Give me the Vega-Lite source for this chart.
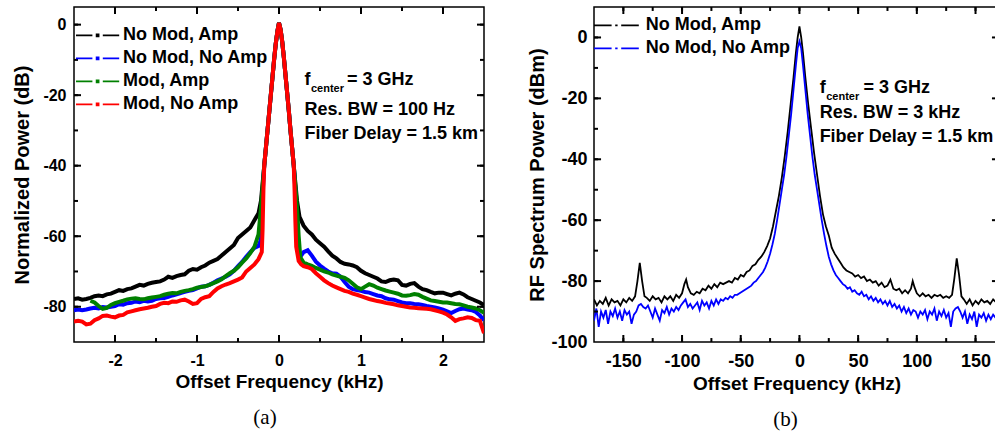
{
  "$schema": "https://vega.github.io/schema/vega-lite/v6.json",
  "padding": {"left": 12, "top": 5, "right": 0, "bottom": 0},
  "spacing": 41,
  "config": {
    "font": "Liberation Sans",
    "view": {"stroke": "#000", "strokeWidth": 1.5},
    "axis": {"labelFont": "Liberation Sans", "labelFontWeight": "bold", "labelColor": "#000", "titleFont": "Liberation Sans", "titleFontWeight": "bold", "titleColor": "#000", "domain": false, "grid": false, "ticks": false, "tickSize": 0},
    "rule": {"color": "#000", "strokeWidth": 2},
    "text": {"font": "Liberation Sans", "fontWeight": "bold", "fontSize": 18, "align": "left", "baseline": "alphabetic", "color": "#000"},
    "title": {"font": "Liberation Serif", "fontWeight": "normal", "fontSize": 21, "color": "#000"}
  },
  "resolve": {"scale": {"color": "independent"}, "legend": {"color": "independent"}},
  "datasets": {
    "a": [
      {"series": "No Mod, Amp",
       "x": [-2.5,-2.45,-2.4,-2.35,-2.3,-2.25,-2.2,-2.15,-2.1,-2.05,-2,-1.95,-1.9,-1.85,-1.8,-1.75,-1.7,-1.65,-1.6,-1.55,-1.5,-1.45,-1.4,-1.35,-1.3,-1.25,-1.2,-1.15,-1.1,-1.05,-1,-0.95,-0.9,-0.85,-0.8,-0.75,-0.7,-0.65,-0.6,-0.55,-0.5,-0.45,-0.4,-0.35,-0.3,-0.25,-0.22,-0.2,-0.18,-0.16,-0.14,-0.12,-0.1,-0.08,-0.06,-0.04,-0.02,0,0.02,0.04,0.06,0.08,0.1,0.12,0.14,0.16,0.18,0.2,0.22,0.25,0.3,0.35,0.4,0.45,0.5,0.55,0.6,0.65,0.7,0.75,0.8,0.85,0.9,0.95,1,1.05,1.1,1.15,1.2,1.25,1.3,1.35,1.4,1.45,1.5,1.55,1.6,1.65,1.7,1.75,1.8,1.85,1.9,1.95,2,2.05,2.1,2.15,2.2,2.25,2.3,2.35,2.4,2.45,2.5],
       "y": [-77.8,-77.6,-78,-77.8,-77.5,-77,-76.8,-77,-76.5,-76.3,-75.8,-75.3,-75.5,-75,-74.8,-74.3,-73.8,-74,-73.5,-73.2,-73,-72.8,-72.3,-71.5,-71.8,-71.3,-71,-70.8,-69.8,-69.3,-69.5,-68.8,-68.3,-67.5,-67,-66.5,-65.5,-64.5,-63.5,-62.5,-60.5,-59.5,-58.5,-57.5,-55.5,-53.5,-50,-45,-40,-35,-30,-25,-20,-15,-10,-5.5,-2,0.5,-1.5,-5,-9.5,-14.5,-19.5,-24.5,-30,-35,-40,-45,-50,-54.5,-57,-58.5,-59.5,-61,-62,-63,-64.3,-65.5,-66.3,-67.3,-67.8,-68,-68.3,-68.8,-69.8,-70.5,-71,-71.5,-72,-72.8,-73,-72.5,-72.3,-72.5,-73.8,-74,-73.5,-73.3,-74.3,-75,-75.3,-75.8,-76.2,-76,-76,-76.4,-76.8,-76.3,-76,-76.5,-77.3,-77.8,-78.3,-78.8,-79.5]},
      {"series": "No Mod, No Amp",
       "x": [-2.5,-2.45,-2.4,-2.35,-2.3,-2.25,-2.2,-2.15,-2.1,-2.05,-2,-1.95,-1.9,-1.85,-1.8,-1.75,-1.7,-1.65,-1.6,-1.55,-1.5,-1.45,-1.4,-1.35,-1.3,-1.25,-1.2,-1.15,-1.1,-1.05,-1,-0.95,-0.9,-0.85,-0.8,-0.75,-0.7,-0.65,-0.6,-0.55,-0.5,-0.45,-0.4,-0.35,-0.3,-0.25,-0.22,-0.21,-0.2,-0.18,-0.16,-0.14,-0.12,-0.1,-0.08,-0.06,-0.04,-0.02,0,0.02,0.04,0.06,0.08,0.1,0.12,0.14,0.16,0.18,0.2,0.21,0.22,0.24,0.27,0.3,0.35,0.4,0.45,0.5,0.55,0.6,0.65,0.7,0.75,0.8,0.85,0.9,0.95,1,1.05,1.1,1.15,1.2,1.25,1.3,1.35,1.4,1.45,1.5,1.55,1.6,1.65,1.7,1.75,1.8,1.85,1.9,1.95,2,2.05,2.1,2.15,2.2,2.25,2.3,2.35,2.4,2.45,2.5],
       "y": [-81,-80.8,-81,-80.8,-80.5,-80.3,-80.5,-80.1,-80.2,-80,-79.8,-79.3,-79.4,-79,-78.9,-78.5,-78.7,-78.3,-78.5,-78.3,-77.8,-77.6,-77.5,-77.2,-76.8,-76.5,-76.1,-75.8,-75.5,-75.3,-74.8,-74.3,-74.2,-73.8,-73.2,-72.5,-72,-71.5,-70.8,-69.8,-68.5,-67.3,-65.8,-64.5,-63.3,-62.8,-61,-56,-48,-40,-35,-30,-25,-20,-15,-10,-5.5,-2,0.5,-1.5,-5,-9.5,-14.5,-19.5,-24.5,-30,-35,-40,-47,-53,-60,-64.5,-65.5,-64.5,-64,-65.5,-67.2,-68.3,-69.2,-70,-70.5,-70.6,-71.5,-73,-74.3,-75,-75.3,-75.5,-75.8,-76,-76.4,-76.8,-77,-77.6,-77.9,-78,-78.4,-78.8,-79,-79,-79.2,-79.3,-79.5,-79.8,-80,-80.2,-80.5,-80.8,-81.3,-81.8,-81.2,-80.7,-80.5,-80.8,-81,-81.5,-82.5,-83.8]},
      {"series": "Mod, Amp",
       "x": [-2.3,-2.25,-2.2,-2.15,-2.1,-2.05,-2,-1.95,-1.9,-1.85,-1.8,-1.75,-1.7,-1.65,-1.6,-1.55,-1.5,-1.45,-1.4,-1.35,-1.3,-1.25,-1.2,-1.15,-1.1,-1.05,-1,-0.95,-0.9,-0.85,-0.8,-0.75,-0.7,-0.65,-0.6,-0.55,-0.5,-0.45,-0.4,-0.35,-0.3,-0.25,-0.22,-0.2,-0.18,-0.16,-0.14,-0.12,-0.1,-0.08,-0.06,-0.04,-0.02,0,0.02,0.04,0.06,0.08,0.1,0.12,0.14,0.16,0.18,0.2,0.22,0.24,0.26,0.3,0.35,0.4,0.45,0.5,0.55,0.6,0.65,0.7,0.75,0.8,0.85,0.9,0.95,1,1.05,1.1,1.15,1.2,1.25,1.3,1.35,1.4,1.45,1.5,1.55,1.6,1.65,1.7,1.75,1.8,1.85,1.9,1.95,2,2.05,2.1,2.15,2.2,2.25,2.3,2.35,2.4,2.45,2.5],
       "y": [-78.3,-78.8,-79.8,-80.6,-80.3,-79.5,-79,-78.6,-78.3,-77.9,-77.7,-77.6,-77.8,-77.9,-77.6,-77.4,-77.2,-77,-76.6,-76.3,-76.1,-76.2,-75.8,-75.5,-75.3,-75,-74.6,-74.4,-74.2,-73.8,-73.3,-72.8,-72.2,-71.3,-70.5,-69.8,-68.8,-67.5,-66.3,-64.8,-63,-59.5,-52,-46,-40,-35,-30,-25,-20,-15,-10,-5.5,-2,0.5,-1.5,-5,-9.5,-14.5,-19.5,-24.5,-30,-35,-40,-46,-52,-60,-66,-67.5,-68,-68.4,-69,-69.5,-70,-70.3,-70.8,-71.2,-71.5,-71.8,-72.5,-73.5,-74.5,-75,-74.3,-73.6,-74,-74.6,-75,-75.4,-75.7,-76,-76.3,-76.8,-76.9,-76.7,-76.4,-76.6,-77.2,-77.7,-78.2,-78.4,-78.6,-78.8,-78.8,-79,-79.2,-79.3,-79.6,-80,-80.2,-80.5,-81,-81.7]},
      {"series": "Mod, No Amp",
       "x": [-2.5,-2.45,-2.4,-2.35,-2.3,-2.25,-2.2,-2.15,-2.1,-2.05,-2,-1.95,-1.9,-1.85,-1.8,-1.75,-1.7,-1.65,-1.6,-1.55,-1.5,-1.45,-1.4,-1.35,-1.3,-1.25,-1.2,-1.15,-1.1,-1.05,-1,-0.95,-0.9,-0.85,-0.8,-0.75,-0.7,-0.65,-0.6,-0.55,-0.5,-0.45,-0.4,-0.35,-0.3,-0.25,-0.21,-0.2,-0.19,-0.18,-0.16,-0.14,-0.12,-0.1,-0.08,-0.06,-0.04,-0.02,0,0.02,0.04,0.06,0.08,0.1,0.12,0.14,0.16,0.18,0.19,0.2,0.21,0.24,0.27,0.3,0.35,0.4,0.45,0.5,0.55,0.6,0.65,0.7,0.75,0.8,0.85,0.9,0.95,1,1.05,1.1,1.15,1.2,1.25,1.3,1.35,1.4,1.45,1.5,1.55,1.6,1.65,1.7,1.75,1.8,1.85,1.9,1.95,2,2.05,2.1,2.15,2.2,2.25,2.3,2.35,2.4,2.45,2.5],
       "y": [-84.2,-84,-84.2,-85,-84.8,-83.8,-83.3,-82.6,-82.5,-82.8,-83,-82.5,-82.3,-81.6,-81.3,-81,-80.7,-80.5,-80.3,-80,-79.8,-79.2,-78.9,-79,-78.5,-78.6,-78.2,-78,-78.5,-79.2,-79,-77.8,-77.3,-77,-75.8,-74.8,-74.2,-73.7,-73.3,-72.8,-72.3,-71.7,-70,-69,-68,-66.5,-64.5,-58,-47,-40,-35,-30,-25,-20,-15,-10,-5.5,-2,0.5,-1.5,-5,-9.5,-14.5,-19.5,-24.5,-30,-35,-40,-47,-56,-63,-67,-68,-68.5,-68.8,-69.3,-70.5,-71.5,-72.5,-73.3,-74,-74.5,-75,-75.5,-75.8,-76.3,-76.6,-77,-77.4,-77.8,-78.1,-78.4,-78.6,-78.9,-79.1,-79.3,-79.6,-79.8,-80,-80.2,-80.3,-80.4,-80.5,-80.6,-80.7,-81,-81.3,-81.7,-82.2,-83,-84,-83.5,-83.3,-83,-83.2,-83.8,-84,-87.5]}
    ],
    "b": [
      {"series": "No Mod, Amp",
       "x": [-175,-172.5,-170,-167.5,-165,-162.5,-160,-157.5,-155,-152.5,-150,-147.5,-145,-142.5,-140,-138,-136,-134,-132,-130,-127.5,-125,-122.5,-120,-117.5,-115,-112.5,-110,-107.5,-105,-102.5,-100,-98,-96.5,-95,-92.5,-90,-87.5,-85,-82.5,-80,-77.5,-75,-72.5,-70,-67.5,-65,-62.5,-60,-57.5,-55,-52.5,-50,-47.5,-45,-42.5,-40,-37.5,-35,-32.5,-30,-27.5,-25,-22.5,-20,-17.5,-15,-12.5,-10,-7.5,-5,-3,-1.5,0,1.5,3,5,7.5,10,12.5,15,17.5,20,22.5,25,27.5,30,32.5,35,37.5,40,42.5,45,47.5,50,52.5,55,57.5,60,62.5,65,67.5,70,72.5,75,77.5,80,82.5,85,87.5,90,92.5,95,96.5,98,100,102.5,105,107.5,110,112.5,115,117.5,120,122.5,125,127.5,130,132,134,136,138,140,142.5,145,147.5,150,152.5,155,157.5,160,162.5,165,167.5,170],
       "y": [-86,-88,-86.5,-87.5,-85.5,-88,-86,-87,-86.5,-88,-86,-87,-85.5,-86.5,-85,-80,-74,-80,-85,-85.5,-86.5,-85,-86,-85.5,-87,-85,-86,-85,-86.5,-84.5,-85.5,-84,-81,-79.5,-82,-84,-84.5,-83.5,-84,-82.5,-83,-81.5,-82.5,-81,-82,-80.5,-81,-80.5,-80,-80.5,-79,-79.5,-78,-78.5,-77,-76.5,-75,-74.5,-73,-72,-70.5,-68.5,-66,-62,-57,-52,-46,-39,-31,-22,-13,-5,0,3.6,0,-5,-13,-22,-30,-38,-45,-52,-58,-62,-65,-69,-71,-72.5,-74,-75.5,-76.5,-77,-77.5,-78.5,-78,-79,-78.5,-80,-79.5,-80.5,-80,-81.5,-80.5,-82,-81.5,-79.5,-82.5,-83,-82.5,-84,-83,-84,-82.5,-80,-82,-84,-85,-84,-85,-84.5,-85.5,-84.5,-85,-84.5,-85.5,-85,-85.5,-84.5,-79,-72.5,-78,-85,-86,-87.5,-86,-88,-86.5,-87.5,-86,-87,-86.5,-87.5,-86,-87,-86.5]},
      {"series": "No Mod, No Amp",
       "x": [-175,-173,-171,-169,-167,-165,-163,-161,-159,-157,-155,-153,-151,-149,-147,-145,-143,-141,-139,-137,-135,-133,-131,-129,-127,-125,-123,-121,-119,-117,-115,-113,-111,-109,-107,-105,-103,-101,-99,-97,-95,-93,-91,-89,-87,-85,-83,-81,-79,-77,-75,-73,-71,-69,-67,-65,-63,-61,-59,-57,-55,-53,-51,-49,-47,-45,-43,-41,-39,-37,-35,-33,-31,-29,-27,-25,-23,-21,-19,-17,-15,-13,-11,-9,-7,-5,-3,-1.5,0,1.5,3,5,7,9,11,13,15,17,19,21,23,25,27,29,31,33,35,37,39,41,43,45,47,49,51,53,55,57,59,61,63,65,67,69,71,73,75,77,79,81,83,85,87,89,91,93,95,97,99,101,103,105,107,109,111,113,115,117,119,121,123,125,127,129,131,133,135,137,139,141,143,145,147,149,151,153,155,157,159,161,163,165,167,169,171],
       "y": [-93,-89,-95,-90,-92,-89.5,-94,-90,-91.5,-89,-92,-90,-93,-89.5,-91,-90,-94,-91,-90,-88,-87.5,-88.5,-89,-88,-90,-92,-89,-91,-93,-89.5,-90.5,-88.5,-91,-89,-90,-88.5,-89.5,-88,-87,-86,-88.5,-87.5,-89,-88,-87,-89.5,-86.5,-88,-87,-89,-86.5,-88,-86,-87.5,-86,-86.5,-85.5,-86,-85,-85.5,-84.5,-84.5,-84,-83.5,-83,-82.5,-82,-81.5,-80.5,-80,-79,-78,-77,-75.5,-73.5,-71,-68,-64.5,-60,-55,-50,-45,-39,-32,-25,-17,-9,-3.5,-1.3,-3.5,-9,-17,-25,-32,-39,-45,-50,-55,-60,-64.5,-68.5,-72,-74.5,-76.5,-78,-79,-80,-81,-81.5,-82.5,-82,-83.5,-83,-84,-84.5,-83.5,-85,-84.5,-86,-85,-86.5,-85.5,-87,-86,-87.5,-86.5,-88,-86.5,-88.5,-87.5,-89,-88,-90,-88.5,-90.5,-89,-91,-89.5,-90,-92,-90,-91,-89.5,-92.5,-90,-91,-89,-93,-90,-91.5,-89.5,-92,-90.5,-95,-90,-89,-88.5,-90,-92,-90,-94,-91,-92.5,-90,-95,-91,-92,-90.5,-93,-91,-92.5,-91,-92,-90.5,-91.5]}
    ],
    "annA": [
      {"t": "f", "x": 0.31, "y": -17.1, "k": "main"},
      {"t": "center", "x": 0.39, "y": -19.0, "k": "sub"},
      {"t": "= 3 GHz", "x": 0.83, "y": -17.1, "k": "main"},
      {"t": "Res. BW = 100 Hz", "x": 0.31, "y": -25.6, "k": "main"},
      {"t": "Fiber Delay = 1.5 km", "x": 0.31, "y": -32.3, "k": "main"}
    ],
    "annB": [
      {"t": "f", "x": 17.2, "y": -18.3, "k": "main"},
      {"t": "center", "x": 22.8, "y": -20.7, "k": "sub"},
      {"t": "= 3 GHz", "x": 54.6, "y": -18.3, "k": "main"},
      {"t": "Res. BW = 3 kHz", "x": 17.2, "y": -26.5, "k": "main"},
      {"t": "Fiber Delay = 1.5 km", "x": 17.2, "y": -34.4, "k": "main"}
    ],
    "txa": [{"v": -2, "m": "M"}, {"v": -1.5, "m": "m"}, {"v": -1, "m": "M"}, {"v": -0.5, "m": "m"}, {"v": 0, "m": "M"}, {"v": 0.5, "m": "m"}, {"v": 1, "m": "M"}, {"v": 1.5, "m": "m"}, {"v": 2, "m": "M"}],
    "tya": [{"v": 0, "m": "M"}, {"v": -10, "m": "m"}, {"v": -20, "m": "M"}, {"v": -30, "m": "m"}, {"v": -40, "m": "M"}, {"v": -50, "m": "m"}, {"v": -60, "m": "M"}, {"v": -70, "m": "m"}, {"v": -80, "m": "M"}],
    "txb": [{"v": -150, "m": "M"}, {"v": -125, "m": "m"}, {"v": -100, "m": "M"}, {"v": -75, "m": "m"}, {"v": -50, "m": "M"}, {"v": -25, "m": "m"}, {"v": 0, "m": "M"}, {"v": 25, "m": "m"}, {"v": 50, "m": "M"}, {"v": 75, "m": "m"}, {"v": 100, "m": "M"}, {"v": 125, "m": "m"}, {"v": 150, "m": "M"}],
    "tyb": [{"v": 0, "m": "M"}, {"v": -10, "m": "m"}, {"v": -20, "m": "M"}, {"v": -30, "m": "m"}, {"v": -40, "m": "M"}, {"v": -50, "m": "m"}, {"v": -60, "m": "M"}, {"v": -70, "m": "m"}, {"v": -80, "m": "M"}, {"v": -90, "m": "m"}]
  },
  "hconcat": [
    {
      "width": 410, "height": 335,
      "title": {"text": "(a)", "orient": "bottom", "anchor": "middle", "frame": "group", "dx": -14, "offset": 16},
      "resolve": {"axis": {"x": "independent", "y": "independent"}},
      "layer": [
        {
          "data": {"name": "a"},
          "transform": [{"flatten": ["x", "y"]}],
          "mark": {"type": "line", "strokeWidth": 4, "clip": true},
          "encoding": {
            "x": {"field": "x", "type": "quantitative", "scale": {"domain": [-2.5, 2.5], "nice": false, "zero": false},
                  "axis": {"orient": "bottom", "values": [-2, -1, 0, 1, 2], "labelExpr": "toString(datum.value)", "labelPadding": 10, "labelFontSize": 16, "title": "Offset Frequency (kHz)", "titleFontSize": 19, "titlePadding": 4}},
            "y": {"field": "y", "type": "quantitative", "scale": {"domain": [-90, 5], "nice": false, "zero": false},
                  "axis": {"orient": "left", "values": [0, -20, -40, -60, -80], "labelExpr": "toString(datum.value)", "labelPadding": 8, "labelFontSize": 16, "title": "Normalized Power (dB)", "titleFontSize": 20, "titlePadding": 10}},
            "color": {"field": "series", "type": "nominal",
                      "scale": {"domain": ["No Mod, Amp", "No Mod, No Amp", "Mod, Amp", "Mod, No Amp"], "range": ["#000000", "#0000ff", "#008000", "#ff0000"]},
                      "legend": {"orient": "none", "legendX": 14.6, "legendY": 19.3, "title": null, "padding": 0,
                                 "symbolType": "M-2.7,0H-0.65M-0.12,-0.12H0.12V0.12H-0.12ZM0.65,0H2.7", "symbolSize": 256, "symbolStrokeWidth": 1.8,
                                 "labelFontSize": 18, "labelFontWeight": "bold", "labelFont": "Liberation Sans", "labelColor": "#000", "labelOffset": 16.4, "rowPadding": 5, "labelLimit": 0,
                                 "encode": {"symbols": {"update": {"strokeWidth": {"value": 1.8}}}}}}
          }
        },
        {"data": {"name": "txa"}, "mark": "rule",
         "encoding": {"x": {"field": "v", "type": "quantitative", "scale": {"domain": [-2.5, 2.5], "nice": false, "zero": false}, "axis": null},
                      "y": {"datum": -90, "type": "quantitative", "scale": {"domain": [-90, 5], "nice": false, "zero": false}, "axis": null},
                      "y2": {"datum": -88.87}}},
        {"data": {"name": "txa"}, "transform": [{"filter": "datum.m === 'M'"}], "mark": "rule",
         "encoding": {"x": {"field": "v", "type": "quantitative", "scale": {"domain": [-2.5, 2.5], "nice": false, "zero": false}, "axis": null},
                      "y": {"datum": -90, "type": "quantitative", "scale": {"domain": [-90, 5], "nice": false, "zero": false}, "axis": null},
                      "y2": {"datum": -88.02}}},
        {"data": {"name": "txa"}, "mark": "rule",
         "encoding": {"x": {"field": "v", "type": "quantitative", "scale": {"domain": [-2.5, 2.5], "nice": false, "zero": false}, "axis": null},
                      "y": {"datum": 5, "type": "quantitative", "scale": {"domain": [-90, 5], "nice": false, "zero": false}, "axis": null},
                      "y2": {"datum": 3.87}}},
        {"data": {"name": "txa"}, "transform": [{"filter": "datum.m === 'M'"}], "mark": "rule",
         "encoding": {"x": {"field": "v", "type": "quantitative", "scale": {"domain": [-2.5, 2.5], "nice": false, "zero": false}, "axis": null},
                      "y": {"datum": 5, "type": "quantitative", "scale": {"domain": [-90, 5], "nice": false, "zero": false}, "axis": null},
                      "y2": {"datum": 3.02}}},
        {"data": {"name": "tya"}, "mark": "rule",
         "encoding": {"y": {"field": "v", "type": "quantitative", "scale": {"domain": [-90, 5], "nice": false, "zero": false}, "axis": null},
                      "x": {"datum": -2.5, "type": "quantitative", "scale": {"domain": [-2.5, 2.5], "nice": false, "zero": false}, "axis": null},
                      "x2": {"datum": -2.451}}},
        {"data": {"name": "tya"}, "transform": [{"filter": "datum.m === 'M'"}], "mark": "rule",
         "encoding": {"y": {"field": "v", "type": "quantitative", "scale": {"domain": [-90, 5], "nice": false, "zero": false}, "axis": null},
                      "x": {"datum": -2.5, "type": "quantitative", "scale": {"domain": [-2.5, 2.5], "nice": false, "zero": false}, "axis": null},
                      "x2": {"datum": -2.4146}}},
        {"data": {"name": "tya"}, "mark": "rule",
         "encoding": {"y": {"field": "v", "type": "quantitative", "scale": {"domain": [-90, 5], "nice": false, "zero": false}, "axis": null},
                      "x": {"datum": 2.5, "type": "quantitative", "scale": {"domain": [-2.5, 2.5], "nice": false, "zero": false}, "axis": null},
                      "x2": {"datum": 2.451}}},
        {"data": {"name": "tya"}, "transform": [{"filter": "datum.m === 'M'"}], "mark": "rule",
         "encoding": {"y": {"field": "v", "type": "quantitative", "scale": {"domain": [-90, 5], "nice": false, "zero": false}, "axis": null},
                      "x": {"datum": 2.5, "type": "quantitative", "scale": {"domain": [-2.5, 2.5], "nice": false, "zero": false}, "axis": null},
                      "x2": {"datum": 2.4146}}},
        {
          "data": {"name": "annA"},
          "transform": [{"filter": "datum.k === 'main'"}],
          "mark": {"type": "text"},
          "encoding": {
            "x": {"field": "x", "type": "quantitative", "scale": {"domain": [-2.5, 2.5], "nice": false, "zero": false}, "axis": null},
            "y": {"field": "y", "type": "quantitative", "scale": {"domain": [-90, 5], "nice": false, "zero": false}, "axis": null},
            "text": {"field": "t"}
          }
        },
        {
          "data": {"name": "annA"},
          "transform": [{"filter": "datum.k === 'sub'"}],
          "mark": {"type": "text", "fontSize": 11},
          "encoding": {
            "x": {"field": "x", "type": "quantitative", "scale": {"domain": [-2.5, 2.5], "nice": false, "zero": false}, "axis": null},
            "y": {"field": "y", "type": "quantitative", "scale": {"domain": [-90, 5], "nice": false, "zero": false}, "axis": null},
            "text": {"field": "t"}
          }
        }
      ]
    },
    {
      "width": 405, "height": 335,
      "title": {"text": "(b)", "orient": "bottom", "anchor": "middle", "frame": "group", "dx": -11, "offset": 16},
      "resolve": {"axis": {"x": "independent", "y": "independent"}},
      "layer": [
        {
          "data": {"name": "b"},
          "transform": [{"flatten": ["x", "y"]}],
          "mark": {"type": "line", "strokeWidth": 1.8, "clip": true},
          "encoding": {
            "x": {"field": "x", "type": "quantitative", "scale": {"domain": [-175, 170], "nice": false, "zero": false},
                  "axis": {"orient": "bottom", "values": [-150, -100, -50, 0, 50, 100, 150], "labelExpr": "toString(datum.value)", "labelPadding": 10, "labelFontSize": 18, "title": "Offset Frequency (kHz)", "titleFontSize": 19, "titlePadding": 4}},
            "y": {"field": "y", "type": "quantitative", "scale": {"domain": [-100, 10], "nice": false, "zero": false},
                  "axis": {"orient": "left", "values": [0, -20, -40, -60, -80, -100], "labelExpr": "toString(datum.value)", "labelPadding": 7, "labelFontSize": 18, "title": "RF Spectrum Power (dBm)", "titleFontSize": 20, "titlePadding": 3}},
            "color": {"field": "series", "type": "nominal",
                      "scale": {"domain": ["No Mod, Amp", "No Mod, No Amp"], "range": ["#000000", "#0000ff"]},
                      "legend": {"orient": "none", "legendX": 13.4, "legendY": 9.3, "title": null, "padding": 0,
                                 "symbolType": "M-2.8,0H-0.6M-0.15,0H0.15M0.6,0H2.8", "symbolSize": 256, "symbolStrokeWidth": 1.8,
                                 "labelFontSize": 18, "labelFontWeight": "bold", "labelFont": "Liberation Sans", "labelColor": "#000", "labelOffset": 20.3, "rowPadding": 5, "labelLimit": 0,
                                 "encode": {"symbols": {"update": {"strokeWidth": {"value": 1.8}}}}}}
          }
        },
        {"data": {"name": "txb"}, "mark": "rule",
         "encoding": {"x": {"field": "v", "type": "quantitative", "scale": {"domain": [-175, 170], "nice": false, "zero": false}, "axis": null},
                      "y": {"datum": -100, "type": "quantitative", "scale": {"domain": [-100, 10], "nice": false, "zero": false}, "axis": null},
                      "y2": {"datum": -98.7}}},
        {"data": {"name": "txb"}, "transform": [{"filter": "datum.m === 'M'"}], "mark": "rule",
         "encoding": {"x": {"field": "v", "type": "quantitative", "scale": {"domain": [-175, 170], "nice": false, "zero": false}, "axis": null},
                      "y": {"datum": -100, "type": "quantitative", "scale": {"domain": [-100, 10], "nice": false, "zero": false}, "axis": null},
                      "y2": {"datum": -97.7}}},
        {"data": {"name": "txb"}, "mark": "rule",
         "encoding": {"x": {"field": "v", "type": "quantitative", "scale": {"domain": [-175, 170], "nice": false, "zero": false}, "axis": null},
                      "y": {"datum": 10, "type": "quantitative", "scale": {"domain": [-100, 10], "nice": false, "zero": false}, "axis": null},
                      "y2": {"datum": 8.7}}},
        {"data": {"name": "txb"}, "transform": [{"filter": "datum.m === 'M'"}], "mark": "rule",
         "encoding": {"x": {"field": "v", "type": "quantitative", "scale": {"domain": [-175, 170], "nice": false, "zero": false}, "axis": null},
                      "y": {"datum": 10, "type": "quantitative", "scale": {"domain": [-100, 10], "nice": false, "zero": false}, "axis": null},
                      "y2": {"datum": 7.7}}},
        {"data": {"name": "tyb"}, "mark": "rule",
         "encoding": {"y": {"field": "v", "type": "quantitative", "scale": {"domain": [-100, 10], "nice": false, "zero": false}, "axis": null},
                      "x": {"datum": -175, "type": "quantitative", "scale": {"domain": [-175, 170], "nice": false, "zero": false}, "axis": null},
                      "x2": {"datum": -171.6}}},
        {"data": {"name": "tyb"}, "transform": [{"filter": "datum.m === 'M'"}], "mark": "rule",
         "encoding": {"y": {"field": "v", "type": "quantitative", "scale": {"domain": [-100, 10], "nice": false, "zero": false}, "axis": null},
                      "x": {"datum": -175, "type": "quantitative", "scale": {"domain": [-175, 170], "nice": false, "zero": false}, "axis": null},
                      "x2": {"datum": -169}}},
        {"data": {"name": "tyb"}, "mark": "rule",
         "encoding": {"y": {"field": "v", "type": "quantitative", "scale": {"domain": [-100, 10], "nice": false, "zero": false}, "axis": null},
                      "x": {"datum": 170, "type": "quantitative", "scale": {"domain": [-175, 170], "nice": false, "zero": false}, "axis": null},
                      "x2": {"datum": 166.6}}},
        {"data": {"name": "tyb"}, "transform": [{"filter": "datum.m === 'M'"}], "mark": "rule",
         "encoding": {"y": {"field": "v", "type": "quantitative", "scale": {"domain": [-100, 10], "nice": false, "zero": false}, "axis": null},
                      "x": {"datum": 170, "type": "quantitative", "scale": {"domain": [-175, 170], "nice": false, "zero": false}, "axis": null},
                      "x2": {"datum": 164}}},
        {
          "data": {"name": "annB"},
          "transform": [{"filter": "datum.k === 'main'"}],
          "mark": {"type": "text"},
          "encoding": {
            "x": {"field": "x", "type": "quantitative", "scale": {"domain": [-175, 170], "nice": false, "zero": false}, "axis": null},
            "y": {"field": "y", "type": "quantitative", "scale": {"domain": [-100, 10], "nice": false, "zero": false}, "axis": null},
            "text": {"field": "t"}
          }
        },
        {
          "data": {"name": "annB"},
          "transform": [{"filter": "datum.k === 'sub'"}],
          "mark": {"type": "text", "fontSize": 11},
          "encoding": {
            "x": {"field": "x", "type": "quantitative", "scale": {"domain": [-175, 170], "nice": false, "zero": false}, "axis": null},
            "y": {"field": "y", "type": "quantitative", "scale": {"domain": [-100, 10], "nice": false, "zero": false}, "axis": null},
            "text": {"field": "t"}
          }
        }
      ]
    }
  ]
}
